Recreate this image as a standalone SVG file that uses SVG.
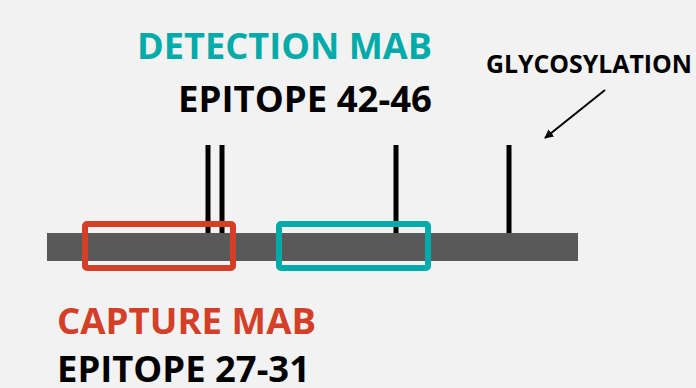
<svg xmlns="http://www.w3.org/2000/svg" width="696" height="388" viewBox="0 0 696 388">
<defs>
<style>
text{font-family:"Open Sans","Liberation Sans",sans-serif;font-weight:bold}
.big{font-size:36px}
.small{font-size:25px}
.tick{stroke:#000;stroke-width:5}
</style>
<marker id="ah" viewBox="0 0 10 10" refX="9" refY="5" markerWidth="9" markerHeight="9" orient="auto" markerUnits="userSpaceOnUse">
<path d="M0,0 L10,5 L0,10 z" fill="#000"/>
</marker>
</defs>
<rect width="696" height="388" fill="#F2F2F2"/>
<g id="ticks">
<line class="tick" x1="208" y1="145" x2="208" y2="233"/>
<line class="tick" x1="222" y1="145" x2="222" y2="233"/>
<line class="tick" x1="396" y1="145" x2="396" y2="233"/>
<line class="tick" x1="509" y1="145" x2="509" y2="233"/>
</g>
<g id="bar"><rect x="47" y="233" width="531" height="28" fill="#595959"/></g>
<g id="capture-box"><rect x="85" y="224" width="148" height="44" rx="2" fill="none" stroke="#D34027" stroke-width="6"/></g>
<g id="detection-box"><rect x="279" y="224" width="149" height="44" rx="2" fill="none" stroke="#00ABA9" stroke-width="6"/></g>
<g id="detection-label">
<text class="big" x="432" y="59" text-anchor="end" fill="#00ABA9" textLength="295" lengthAdjust="spacingAndGlyphs">DETECTION MAB</text>
<text class="big" x="432" y="112" text-anchor="end" fill="#000" textLength="254" lengthAdjust="spacingAndGlyphs">EPITOPE 42-46</text>
</g>
<g id="glyco-label">
<text class="small" x="486" y="73" fill="#000" textLength="206" lengthAdjust="spacingAndGlyphs">GLYCOSYLATION</text>
</g>
<g id="capture-label">
<text class="big" x="57" y="334" fill="#D34027" textLength="259" lengthAdjust="spacingAndGlyphs">CAPTURE MAB</text>
<text class="big" x="57" y="382" fill="#000" textLength="253" lengthAdjust="spacingAndGlyphs">EPITOPE 27-31</text>
</g>
<g id="connectors">
<line x1="605" y1="90" x2="545" y2="138" stroke="#000" stroke-width="2" marker-end="url(#ah)"/>
</g>
</svg>
